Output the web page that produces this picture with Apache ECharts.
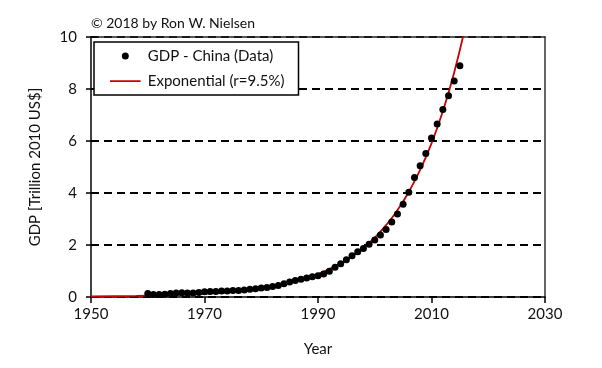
<!DOCTYPE html>
<html>
<head>
<meta charset="utf-8">
<script src="https://cdn.jsdelivr.net/npm/echarts@6/dist/echarts.min.js"></script>
<style>
html,body{margin:0;padding:0;background:#fff;}
#c{width:602px;height:368px;}
</style>
</head>
<body>
<div id="c"></div>
<script>
// Data
var gdpYears = [1960,1961,1962,1963,1964,1965,1966,1967,1968,1969,
  1970,1971,1972,1973,1974,1975,1976,1977,1978,1979,
  1980,1981,1982,1983,1984,1985,1986,1987,1988,1989,
  1990,1991,1992,1993,1994,1995,1996,1997,1998,1999,
  2000,2001,2002,2003,2004,2005,2006,2007,2008,2009,
  2010,2011,2012,2013,2014,2015];
var gdpValues = [0.13,0.10,0.10,0.11,0.13,0.15,0.16,0.15,0.15,0.17,
  0.20,0.21,0.21,0.23,0.23,0.25,0.25,0.27,0.30,0.32,
  0.35,0.37,0.40,0.44,0.51,0.58,0.63,0.68,0.73,0.78,
  0.82,0.88,0.99,1.14,1.28,1.43,1.59,1.74,1.87,2.03,
  2.19,2.38,2.60,2.88,3.19,3.57,4.03,4.60,5.05,5.52,
  6.12,6.65,7.21,7.74,8.31,8.89];
var expYears = [1950,1954,1958,1962,1966,1970,1974,1978,1982,1986,1990,1994,1996,1998,2000,2002,2004,2006,2008,2010,2012,2014,2016,2018];
var expValues = [0.020,0.029,0.042,0.062,0.090,0.132,0.193,0.283,0.413,0.604,0.884,1.292,1.562,1.889,2.285,2.763,3.341,4.040,4.885,5.907,7.143,8.638,10.446,12.63];
var xTicks = {min:1950, max:2030, step:20};
var yTicks = {min:0, max:10, step:2};
var seriesNames = ['GDP - China (Data)', 'Exponential (r=9.5%)'];
var titleText = '\u00a9 2018 by Ron W. Nielsen';

var FONT = 'Lato';
function pairs(xs, ys){ return xs.map(function(x,i){ return [x, ys[i]]; }); }

var chart = echarts.init(document.getElementById('c'), null, {renderer:'canvas'});
var axisTextColor = '#111';
var lineIcon = 'path://M0,0 L35,0 L35,0.05 L0,0.05 Z M0,3 L35,3 L35,5 L0,5 Z M0,7.95 L35,7.95 L35,8 L0,8 Z';
chart.setOption({
  animation:false,
  backgroundColor:'#ffffff',
  title:{
    text:titleText, left:86, top:11,
    textStyle:{fontFamily:FONT, fontSize:14, fontWeight:'normal', color:'#111'}
  },
  legend:{
    orient:'vertical', left:94, top:42,
    padding:[6,14,6,16], itemGap:9,
    itemWidth:35, itemHeight:7,
    borderColor:'#000', borderWidth:1.5, backgroundColor:'#fff',
    textStyle:{fontFamily:FONT, fontSize:15, color:'#111', lineHeight:16},
    data:[
      {name:seriesNames[0], icon:'circle', itemStyle:{color:'#000', opacity:1}},
      {name:seriesNames[1], icon:lineIcon, itemStyle:{color:'#cc0000'}}
    ]
  },
  grid:{left:91, right:57, top:37, bottom:71, containLabel:false},
  xAxis:[{
    type:'value', min:xTicks.min, max:xTicks.max, interval:xTicks.step,
    name:'Year', nameLocation:'middle', nameGap:45,
    nameTextStyle:{fontFamily:FONT, fontSize:15, color:axisTextColor},
    axisLine:{show:true, onZero:false, lineStyle:{color:'#000', width:1.5}},
    axisTick:{show:true, inside:false, length:6, lineStyle:{color:'#000', width:1.5}},
    axisLabel:{fontFamily:FONT, fontSize:15, color:axisTextColor, margin:10,
      formatter:function(v){ return String(v); }},
    splitLine:{show:false}
  },{
    type:'value', position:'top', min:xTicks.min, max:xTicks.max, interval:xTicks.step,
    axisLine:{show:true, onZero:false, lineStyle:{color:'#222', width:1.5}},
    axisTick:{show:false}, axisLabel:{show:false}, splitLine:{show:false}
  }],
  yAxis:[{
    type:'value', min:yTicks.min, max:yTicks.max, interval:yTicks.step,
    name:'GDP [Trillion 2010 US$]', nameLocation:'middle', nameGap:48, nameRotate:90,
    nameTextStyle:{fontFamily:FONT, fontSize:15, color:axisTextColor},
    axisLine:{show:true, onZero:false, lineStyle:{color:'#000', width:1.5}},
    axisTick:{show:true, inside:false, length:5, lineStyle:{color:'#000', width:1.5}},
    axisLabel:{fontFamily:FONT, fontSize:15, color:axisTextColor, margin:14},
    splitLine:{show:true, lineStyle:{color:'#000', width:2, type:[8,5]}}
  },{
    type:'value', position:'left', min:yTicks.min, max:yTicks.max, interval:yTicks.step,
    axisLine:{show:false},
    axisTick:{show:true, inside:true, length:6, lineStyle:{color:'#000', width:1.5}},
    axisLabel:{show:false}, splitLine:{show:false}
  },{
    type:'value', position:'right', min:yTicks.min, max:yTicks.max, interval:yTicks.step,
    axisLine:{show:true, onZero:false, lineStyle:{color:'#333', width:1.5}},
    axisTick:{show:false}, axisLabel:{show:false}, splitLine:{show:false}
  }],
  series:[{
    name:seriesNames[0], type:'scatter', xAxisIndex:0, yAxisIndex:0,
    symbol:'circle', symbolSize:7, itemStyle:{color:'#000', opacity:1}, z:3,
    data:pairs(gdpYears, gdpValues)
  },{
    name:seriesNames[1], type:'line', xAxisIndex:0, yAxisIndex:0,
    smooth:true, showSymbol:false, symbol:'none', clip:true, z:2,
    lineStyle:{color:'#cc0000', width:1.8}, itemStyle:{color:'#cc0000'},
    data:pairs(expYears, expValues)
  }]
});
</script>
</body>
</html>
